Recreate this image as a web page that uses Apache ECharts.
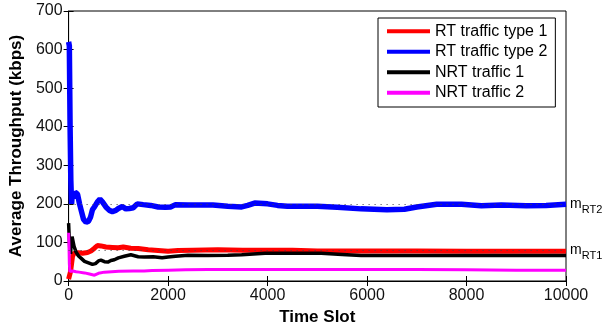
<!DOCTYPE html>
<html>
<head>
<meta charset="utf-8">
<script src="https://cdn.jsdelivr.net/npm/echarts@6/dist/echarts.min.js"></script>
<style>
  html, body { margin: 0; padding: 0; background: #fff; }
  #container { width: 603px; height: 331px; }
</style>
</head>
<body>
<div id="container"></div>
<script>
const seriesNames = ['RT traffic type 1', 'RT traffic type 2', 'NRT traffic 1', 'NRT traffic 2']

// [time slot, average throughput (kbps)]
const rt1 = [
  [0, 5], [20, 10], [40, 25], [60, 45], [80, 65], [110, 72], [200, 73], [280, 72],
  [380, 74], [450, 78], [520, 85], [580, 92], [650, 91], [750, 88], [880, 87],
  [1000, 86], [1100, 88], [1250, 85], [1400, 84], [1600, 81], [1800, 79], [2000, 77],
  [2200, 79], [2500, 80], [3000, 81], [3500, 80], [4000, 80], [4500, 80], [5000, 78],
  [6000, 78], [7000, 78], [8000, 77], [9000, 77], [10000, 77]
]
const rt2 = [
  [0, 620], [15, 610], [30, 400], [45, 260], [60, 200], [75, 225], [100, 215],
  [130, 230], [180, 225], [220, 200], [260, 180], [300, 160], [350, 152], [400, 155],
  [440, 165], [480, 185], [520, 192], [580, 205], [630, 212], [680, 205], [750, 192],
  [820, 183], [880, 180], [950, 183], [1000, 188], [1080, 193], [1150, 187],
  [1220, 188], [1300, 190], [1380, 200], [1420, 203], [1500, 198], [1650, 196],
  [1800, 192], [1950, 191], [2050, 192], [2150, 198], [2400, 197], [2700, 197],
  [2900, 197], [3200, 194], [3480, 192], [3600, 196], [3740, 202], [4000, 200],
  [4200, 196], [4400, 194], [5000, 194], [5400, 191], [5880, 187], [6400, 185],
  [6750, 186], [7000, 192], [7400, 199], [7900, 199], [8300, 195], [8700, 197],
  [9200, 195], [9600, 196], [10000, 199]
]
const nrt1 = [
  [0, 150], [10, 120], [25, 80], [40, 70], [55, 100], [70, 115], [90, 110], [110, 90],
  [150, 75], [200, 65], [260, 58], [320, 51], [400, 47], [480, 43], [540, 45],
  [600, 52], [650, 54], [720, 50], [790, 49], [850, 53], [920, 55], [1000, 60],
  [1120, 64], [1250, 68], [1400, 63], [1520, 62], [1700, 63], [1880, 60], [2000, 62],
  [2150, 64], [2400, 67], [2800, 66], [3200, 67], [3480, 68], [3950, 72], [4500, 72],
  [5080, 72], [5500, 69], [5880, 66], [7000, 66], [8000, 66], [9000, 66], [10000, 66]
]
const nrt2 = [
  [0, 125], [8, 90], [15, 45], [25, 25], [40, 30], [86, 26], [150, 24], [210, 23],
  [320, 21], [420, 18], [520, 15], [600, 20], [720, 23], [1010, 25], [1300, 26],
  [1520, 26], [1680, 27], [2000, 28], [2350, 29], [2800, 30], [4000, 30], [5000, 30],
  [6000, 30], [7000, 30], [8000, 29], [9000, 28], [10000, 28]
]

// mean reference levels
const meanRT1 = 80
const meanRT2 = 200

const font = 'Liberation Sans, Arial, Helvetica, sans-serif'

const myChart = echarts.init(document.getElementById('container'))

const refLine = (value, sub) => ({
  silent: true,
  symbol: 'none',
  lineStyle: { color: '#444', type: [1, 5], width: 1 },
  label: {
    position: 'end',
    distance: 4,
    formatter: '{m|m}{s|' + sub + '}',
    rich: {
      m: { fontSize: 14, fontFamily: font, color: '#000', verticalAlign: 'middle' },
      s: { fontSize: 11, fontFamily: font, color: '#000', padding: [12, 0, 0, 0] }
    }
  },
  data: [{ yAxis: value }]
})

const hiddenAxis = {
  axisLine: { show: false },
  axisLabel: { show: false },
  splitLine: { show: false },
  axisTick: { inside: true, length: 5, lineStyle: { color: '#000' } }
}

const option = {
  backgroundColor: '#fff',
  animation: false,
  grid: {
    left: 66, right: 37, top: 11, bottom: 46,
    show: true, borderColor: '#000', borderWidth: 1
  },
  legend: {
    data: seriesNames,
    orient: 'vertical',
    left: 378,
    top: 18,
    padding: [4, 8, 5, 9],
    itemGap: 2,
    itemWidth: 43,
    itemHeight: 4,
    icon: 'rect',
    backgroundColor: '#fff',
    borderColor: '#000',
    borderWidth: 1,
    borderRadius: 0,
    textStyle: { fontSize: 16, fontFamily: font, color: '#000', lineHeight: 18.5 }
  },
  xAxis: [
    {
      type: 'value',
      min: 0, max: 10000, interval: 2000,
      name: 'Time Slot',
      nameLocation: 'middle',
      nameGap: 28,
      nameTextStyle: { fontSize: 17, fontWeight: 'bold', fontFamily: font, color: '#000' },
      axisLine: { lineStyle: { color: '#000' } },
      axisTick: { inside: true, length: 5, lineStyle: { color: '#000' } },
      axisLabel: { fontSize: 16, fontFamily: font, color: '#111', margin: 7, formatter: v => String(v) },
      splitLine: { show: false }
    },
    Object.assign({ type: 'value', position: 'top', min: 0, max: 10000, interval: 2000 }, hiddenAxis)
  ],
  yAxis: [
    {
      type: 'value',
      min: 0, max: 700, interval: 100,
      name: 'Average Throughput (kbps)',
      nameLocation: 'middle',
      nameGap: 40,
      nameTextStyle: { fontSize: 17, fontWeight: 'bold', fontFamily: font, color: '#000' },
      axisLine: { show: true, lineStyle: { color: '#000' } },
      axisTick: { show: true, inside: true, length: 5, lineStyle: { color: '#000' } },
      axisLabel: { fontSize: 16, fontFamily: font, color: '#111', margin: 6 },
      splitLine: { show: false }
    },
    Object.assign({ type: 'value', position: 'right', min: 0, max: 700, interval: 100 }, hiddenAxis)
  ],
  series: [
    {
      name: seriesNames[0], type: 'line', data: rt1, showSymbol: false,
      lineStyle: { color: '#ff0000', width: 5 }, itemStyle: { color: '#ff0000' },
      markLine: refLine(meanRT1, 'RT1')
    },
    {
      name: seriesNames[1], type: 'line', data: rt2, showSymbol: false,
      lineStyle: { color: '#0000ff', width: 5.5 }, itemStyle: { color: '#0000ff' },
      markLine: refLine(meanRT2, 'RT2')
    },
    {
      name: seriesNames[2], type: 'line', data: nrt1, showSymbol: false,
      lineStyle: { color: '#000000', width: 3.5 }, itemStyle: { color: '#000000' }
    },
    {
      name: seriesNames[3], type: 'line', data: nrt2, showSymbol: false,
      lineStyle: { color: '#ff00ff', width: 3 }, itemStyle: { color: '#ff00ff' }
    }
  ]
}

myChart.setOption(option)
</script>
</body>
</html>
